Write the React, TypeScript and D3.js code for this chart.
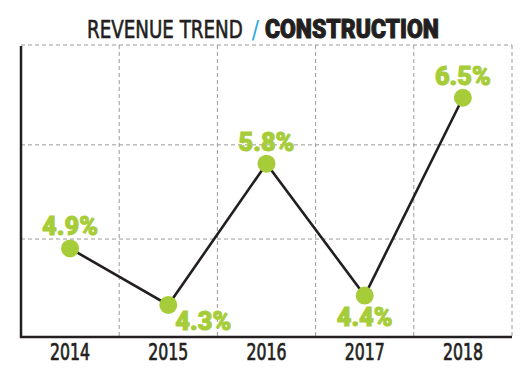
import * as d3 from 'd3';
import * as React from 'react';
import { useLayoutEffect, useRef, useState } from 'react';

const years = ['2014', '2015', '2016', '2017', '2018'];
const growth = [4.9, 4.3, 5.8, 4.4, 6.5];
const gridValues = [5, 6];

const GREEN = '#a6cd39';
const INK = '#231f20';
const GRID = '#9a9a9a';

const width = 530;
const height = 370;
const left = 21;
const right = 512;
const top = 45;
const bottom = 337;

const narrow = "'Liberation Sans Narrow', 'DejaVu Sans Condensed', sans-serif";

// squeezes a text horizontally so it spans `fit` px, starting at x
const FitText: React.FC<React.SVGProps<SVGTextElement> & { fit: number; x: number; y: number }> = (props) => {
  const { fit, x, y, children, ...rest } = props;
  const ref = useRef<SVGTextElement>(null);
  const [k, setK] = useState(1);
  useLayoutEffect(() => {
    if (ref.current) {
      const w = ref.current.getComputedTextLength();
      if (w > 0) setK(fit / w);
    }
  }, [fit]);
  return (
    <text ref={ref} transform={`translate(${x},${y}) scale(${k},1)`} {...rest}>
      {children}
    </text>
  );
};

export default function App() {
  const x = d3.scaleBand<string>().domain(years).range([left, right]).padding(0);
  const y = d3.scaleLinear().domain([3.96, 7.06]).range([bottom, top]);
  const cx = (yr: string) => (x(yr) ?? 0) + x.bandwidth() / 2;

  const line = d3
    .line<number>()
    .x((_, i) => cx(years[i]))
    .y((d) => y(d));

  // local minimums get their label underneath
  const isLow = (i: number) =>
    (i === 0 || growth[i] < growth[i - 1]) && (i === growth.length - 1 || growth[i] < growth[i + 1]);

  const gridX = years.map((yr) => x(yr) ?? 0).slice(1).concat([right]);

  return (
    <svg width={width} height={height} style={{ position: 'absolute', left: 0, top: 0, background: '#fff' }}>
      <FitText x={87} y={38} fit={156} fill={INK} stroke={INK} strokeWidth={0.6} fontFamily={narrow} fontSize={25}>
        REVENUE TREND
      </FitText>
      <text x={255.5} y={38} textAnchor="middle" fill="#29abe2" fontFamily={narrow} fontSize={24}>/</text>
      <FitText x={265} y={38} fit={174} fill={INK} stroke={INK} strokeWidth={1} fontFamily="Roboto, sans-serif"
        fontWeight={900} fontSize={25}>
        CONSTRUCTION
      </FitText>

      <g stroke={GRID} strokeWidth={1} strokeDasharray="4,3">
        <line x1={left} x2={right} y1={top} y2={top} />
        {gridValues.map((t) => (
          <line key={t} x1={left} x2={right} y1={y(t)} y2={y(t)} />
        ))}
        {gridX.map((gx, i) => (
          <line key={i} x1={gx} x2={gx} y1={top} y2={bottom} />
        ))}
      </g>

      <line x1={left} x2={left} y1={top + 1} y2={bottom + 1} stroke={INK} strokeWidth={2.5} />
      <line x1={left - 1} x2={right} y1={bottom} y2={bottom} stroke={INK} strokeWidth={2.5} />

      {years.map((yr) => (
        <text
          key={yr}
          x={cx(yr) - 20}
          y={360}
          fontFamily={narrow}
          fontSize={23}
          fill={INK}
          stroke={INK}
          strokeWidth={0.7}
          textLength={40}
          lengthAdjust="spacingAndGlyphs"
        >
          {yr}
        </text>
      ))}

      <path d={line(growth) ?? ''} fill="none" stroke={INK} strokeWidth={2.6} />

      {growth.map((v, i) => (
        <circle key={i} cx={cx(years[i])} cy={y(v)} r={9} fill={GREEN} />
      ))}

      {growth.map((v, i) => {
        const low = isLow(i);
        const shift = low && i === 1 ? 35 : 0;
        return (
          <text
            key={i}
            x={cx(years[i]) + shift}
            y={y(v) + (low ? (i === 1 ? 25 : 30) : -13)}
            textAnchor="middle"
            fontFamily="Roboto, sans-serif"
            fontWeight={900}
            fontSize={25}
            fill={GREEN}
            stroke={GREEN}
            strokeWidth={1}
            textLength={56}
            lengthAdjust="spacingAndGlyphs"
          >
            {v.toFixed(1)}%
          </text>
        );
      })}
    </svg>
  );
}
